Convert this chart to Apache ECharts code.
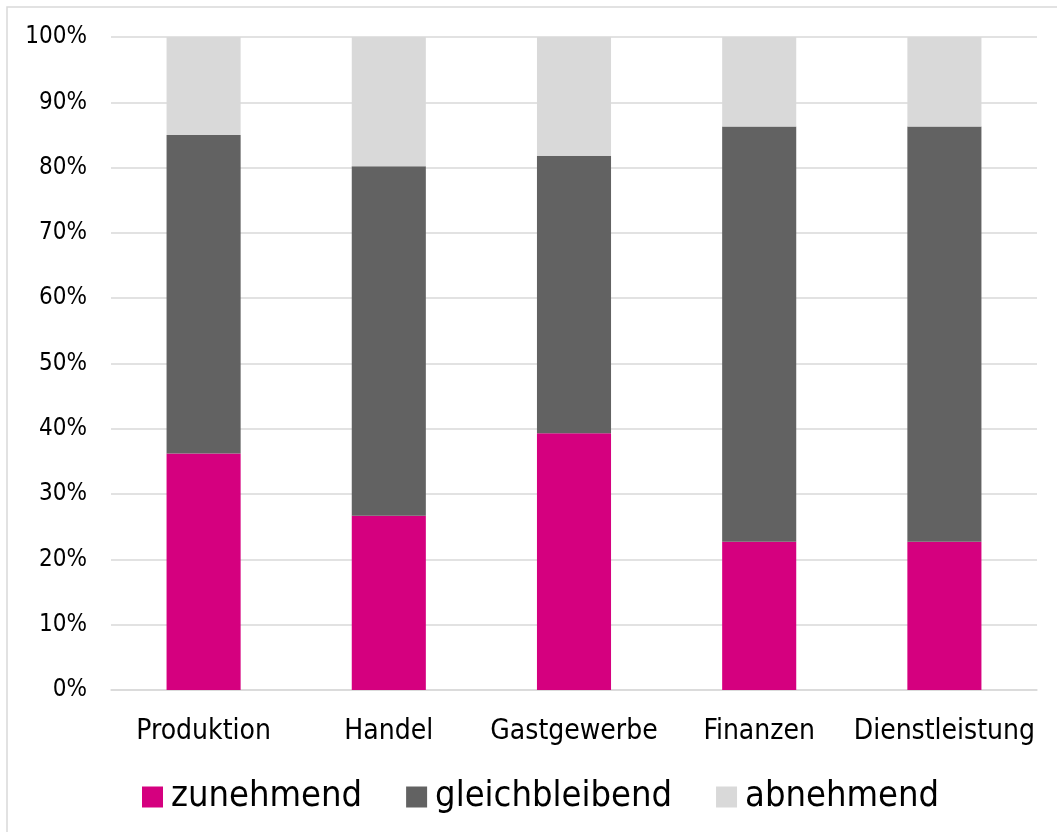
<!DOCTYPE html>
<html>
<head>
<meta charset="utf-8">
<script src="https://cdn.jsdelivr.net/npm/echarts@6/dist/echarts.min.js"></script>
<style>
  html, body { margin: 0; padding: 0; background: #fff; }
  #chart { width: 1057px; height: 832px; }
</style>
</head>
<body>
<div id="chart"></div>
<script>
// Branches and share of answers (percent of respondents)
const categories = ['Produktion', 'Handel', 'Gastgewerbe', 'Finanzen', 'Dienstleistung'];
const zunehmend = [36.2, 26.7, 39.3, 22.7, 22.7];
const gleichbleibend = [48.8, 53.5, 42.5, 63.6, 63.6];
const abnehmend = [15.0, 19.8, 18.2, 13.7, 13.7];
const seriesNames = ['zunehmend', 'gleichbleibend', 'abnehmend'];
const seriesColors = ['#d5007f', '#626262', '#d9d9d9'];

const FONT = '"DejaVu Sans Condensed", "DejaVu Sans", sans-serif';

const chart = echarts.init(document.getElementById('chart'), null, { renderer: 'canvas' });

const stackSeries = [zunehmend, gleichbleibend, abnehmend].map((values, i) => ({
  name: seriesNames[i],
  type: 'bar',
  stack: 'total',
  barWidth: '40%',
  data: values,
  itemStyle: { color: seriesColors[i] },
  emphasis: { disabled: true }
}));

chart.setOption({
  animation: false,
  backgroundColor: '#ffffff',
  graphic: [{
    type: 'rect',
    shape: { x: 7, y: 7, width: 1100, height: 900 },
    style: { fill: 'none', stroke: '#d9d9d9', lineWidth: 1.5 },
    z: -1
  }],
  grid: { left: 111, right: 20, top: 37, bottom: 142, containLabel: false },
  legend: {
    left: 137,
    top: 774,
    itemWidth: 21,
    itemHeight: 21,
    itemGap: 44,
    icon: 'rect',
    textStyle: { fontFamily: FONT, fontSize: 36, color: '#000', padding: [0, 0, 0, 3] },
    data: seriesNames
  },
  xAxis: {
    type: 'category',
    data: categories,
    axisLine: { lineStyle: { color: '#d9d9d9', width: 1.5 } },
    axisTick: { show: false },
    axisLabel: { interval: 0, fontFamily: FONT, fontSize: 28, color: '#000', margin: 28 }
  },
  yAxis: {
    type: 'value',
    min: 0,
    max: 100,
    interval: 10,
    axisLine: { show: false },
    axisTick: { show: false },
    splitLine: { lineStyle: { color: '#d9d9d9', width: 1.5 } },
    axisLabel: { fontFamily: FONT, fontSize: 24, color: '#000', margin: 24, formatter: '{value}%' }
  },
  series: stackSeries
});
</script>
</body>
</html>
